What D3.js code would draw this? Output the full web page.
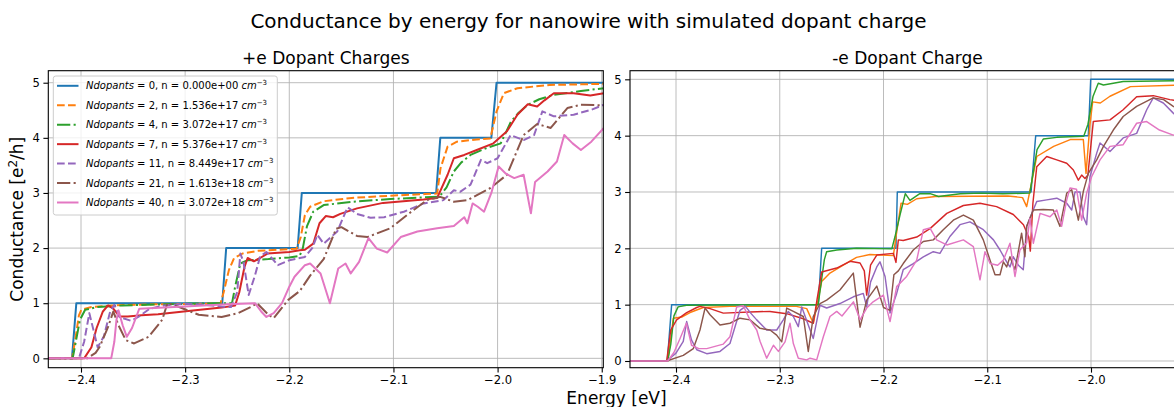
<!DOCTYPE html>
<html><head><meta charset="utf-8">
<script src="https://cdn.jsdelivr.net/npm/d3@7"></script>
<style>
html,body{margin:0;padding:0;background:#fff;}
svg{display:block;font-family:"DejaVu Sans",sans-serif;}
</style></head><body>
<svg id="chart" width="1174" height="407"></svg>
<script>
// ---------------- DATA ----------------
const dopantCounts = [0, 2, 4, 7, 11, 21, 40];
const densityLabels = ["0.000e+00", "1.536e+17", "3.072e+17", "5.376e+17", "8.449e+17", "1.613e+18", "3.072e+18"];
const xTickValues = [-2.4, -2.3, -2.2, -2.1, -2.0, -1.9];
const xTickLabels = ["−2.4", "−2.3", "−2.2", "−2.1", "−2.0", "−1.9"];
const yTickValues = [0, 1, 2, 3, 4, 5];
const yTickLabels = ["0", "1", "2", "3", "4", "5"];

// +e dopant charges: [energy eV, conductance e^2/h]
const plusN0 = [[-2.432,0],[-2.4087,0],[-2.4045,1],[-2.2644,1],[-2.2606,2],[-2.192,2],[-2.188,3],[-2.059,3],[-2.055,4],[-2.006,4],[-2.001,5],[-1.898,5]];
const plusN2 = [[-2.432,0],[-2.4085,0],[-2.405,0.4],[-2.402,0.78],[-2.3997,0.88],[-2.39,0.93],[-2.37,0.96],[-2.33,0.98],[-2.28,0.99],[-2.266,1.0],[-2.263,1.2],[-2.258,1.6],[-2.253,1.82],[-2.245,1.9],[-2.23,1.95],[-2.21,1.97],[-2.193,1.99],[-2.189,2.2],[-2.185,2.6],[-2.18,2.75],[-2.167,2.85],[-2.14,2.91],[-2.103,2.95],[-2.07,2.98],[-2.058,2.99],[-2.0548,3.45],[-2.048,3.84],[-2.039,3.93],[-2.02,3.97],[-2.007,3.99],[-2.001,4.48],[-1.994,4.81],[-1.981,4.9],[-1.95,4.96],[-1.92,4.97],[-1.898,4.98]];
const plusN4 = [[-2.432,0],[-2.408,0],[-2.405,0.3],[-2.401,0.7],[-2.396,0.88],[-2.385,0.93],[-2.36,0.96],[-2.32,0.98],[-2.27,1.0],[-2.255,1.0],[-2.252,1.3],[-2.247,1.72],[-2.24,1.78],[-2.22,1.8],[-2.2,1.83],[-2.19,1.86],[-2.187,2.0],[-2.183,2.4],[-2.177,2.66],[-2.167,2.78],[-2.14,2.84],[-2.103,2.89],[-2.07,2.92],[-2.056,2.93],[-2.049,3.1],[-2.042,3.39],[-2.035,3.55],[-2.026,3.69],[-2.01,3.82],[-1.997,3.9],[-1.992,4.1],[-1.987,4.3],[-1.98,4.45],[-1.971,4.6],[-1.96,4.7],[-1.946,4.78],[-1.92,4.85],[-1.898,4.9]];
const plusN7 = [[-2.432,0],[-2.397,0],[-2.39,0.2],[-2.385,0.55],[-2.379,0.85],[-2.374,0.96],[-2.369,0.9],[-2.363,0.76],[-2.355,0.76],[-2.342,0.78],[-2.326,0.8],[-2.297,0.86],[-2.265,0.92],[-2.252,0.96],[-2.248,1.2],[-2.243,1.66],[-2.24,1.82],[-2.234,1.76],[-2.228,1.82],[-2.221,1.9],[-2.2,1.93],[-2.19,1.96],[-2.185,1.97],[-2.177,2.08],[-2.171,2.45],[-2.165,2.58],[-2.158,2.56],[-2.151,2.62],[-2.135,2.72],[-2.11,2.82],[-2.071,2.88],[-2.058,2.91],[-2.048,3.33],[-2.042,3.63],[-2.032,3.69],[-2.02,3.78],[-2.004,3.9],[-1.991,4.12],[-1.981,4.42],[-1.971,4.61],[-1.962,4.57],[-1.955,4.68],[-1.946,4.81],[-1.927,4.81],[-1.911,4.77],[-1.898,4.81]];
const plusN11 = [[-2.432,0],[-2.402,0],[-2.397,0.3],[-2.392,0.82],[-2.384,0.2],[-2.378,0.4],[-2.372,0.85],[-2.368,0.97],[-2.363,0.75],[-2.352,0.68],[-2.345,0.75],[-2.334,0.9],[-2.32,0.96],[-2.3,0.99],[-2.28,0.97],[-2.265,0.94],[-2.256,0.93],[-2.25,1.2],[-2.247,1.9],[-2.244,1.75],[-2.239,1.15],[-2.233,1.5],[-2.228,1.85],[-2.222,1.93],[-2.211,1.69],[-2.2,1.78],[-2.185,1.84],[-2.178,2.0],[-2.173,2.24],[-2.167,2.08],[-2.154,2.3],[-2.144,2.74],[-2.135,2.62],[-2.122,2.55],[-2.109,2.56],[-2.09,2.66],[-2.071,2.81],[-2.052,2.87],[-2.042,3.05],[-2.036,3.02],[-2.026,3.15],[-2.016,3.6],[-2.01,3.54],[-2.0,3.63],[-1.9875,4.05],[-1.975,3.96],[-1.965,4.05],[-1.957,4.48],[-1.946,4.39],[-1.927,4.42],[-1.91,4.51],[-1.898,4.6]];
const plusN21 = [[-2.432,0],[-2.394,0],[-2.386,0.1],[-2.382,0.21],[-2.374,0.57],[-2.369,0.85],[-2.364,0.6],[-2.357,0.33],[-2.349,0.27],[-2.335,0.39],[-2.322,0.7],[-2.317,1.0],[-2.307,0.94],[-2.287,0.79],[-2.265,0.75],[-2.249,0.82],[-2.236,0.94],[-2.231,1.0],[-2.22,0.79],[-2.215,0.73],[-2.201,1.06],[-2.19,1.22],[-2.18,1.5],[-2.167,1.8],[-2.155,2.35],[-2.15,2.38],[-2.135,2.22],[-2.125,2.2],[-2.103,2.36],[-2.087,2.6],[-2.068,2.87],[-2.055,2.93],[-2.042,2.84],[-2.029,2.87],[-2.007,3.09],[-1.991,3.33],[-1.975,4.05],[-1.962,4.25],[-1.949,4.18],[-1.933,4.54],[-1.92,4.6],[-1.898,4.59]];
const plusN40 = [[-2.432,0],[-2.371,0],[-2.368,0.3],[-2.366,0.69],[-2.364,0.87],[-2.36,0.6],[-2.356,0.39],[-2.351,0.55],[-2.344,0.9],[-2.32,0.92],[-2.291,0.95],[-2.259,0.98],[-2.233,1.0],[-2.227,0.85],[-2.222,0.75],[-2.215,0.82],[-2.207,1.0],[-2.2,1.3],[-2.195,1.48],[-2.185,1.69],[-2.18,1.72],[-2.17,1.54],[-2.161,1.0],[-2.153,1.63],[-2.146,1.72],[-2.141,1.54],[-2.133,1.75],[-2.124,2.18],[-2.116,1.99],[-2.106,1.92],[-2.093,2.2],[-2.077,2.3],[-2.058,2.36],[-2.042,2.4],[-2.032,2.56],[-2.029,2.45],[-2.024,2.81],[-2.019,2.75],[-2.013,2.66],[-2.006,3.0],[-1.999,3.48],[-1.992,3.35],[-1.984,3.27],[-1.975,3.33],[-1.968,2.63],[-1.964,3.2],[-1.952,3.39],[-1.943,3.57],[-1.936,4.05],[-1.928,3.9],[-1.92,3.78],[-1.91,3.93],[-1.898,4.18]];

// -e dopant charge
const minusN0 = [[-2.445,0],[-2.4084,0],[-2.4042,1],[-2.2628,1],[-2.2596,2],[-2.188,2],[-2.1867,3],[-2.0578,3],[-2.0533,4],[-2.0026,4],[-2.0003,5],[-1.909,5]];
const minusN2 = [[-2.445,0],[-2.408,0],[-2.405,0.4],[-2.4026,0.76],[-2.3945,0.78],[-2.3865,0.86],[-2.3737,0.95],[-2.348,0.97],[-2.284,0.97],[-2.274,0.93],[-2.2677,0.67],[-2.264,1.0],[-2.2596,1.41],[-2.2516,1.56],[-2.2388,1.7],[-2.226,1.84],[-2.213,1.89],[-2.1905,1.87],[-2.188,2.2],[-2.1831,2.8],[-2.177,2.78],[-2.168,2.88],[-2.15,2.92],[-2.08,2.93],[-2.066,2.9],[-2.062,2.74],[-2.058,3.1],[-2.0523,3.63],[-2.036,3.81],[-2.02,3.93],[-2.0074,3.93],[-2.0048,3.33],[-2.001,4.2],[-1.9984,4.6],[-1.991,4.58],[-1.9817,4.7],[-1.962,4.87],[-1.909,4.9]];
const minusN4 = [[-2.445,0],[-2.408,0],[-2.405,0.3],[-2.402,0.8],[-2.398,0.96],[-2.39,0.99],[-2.3,1.0],[-2.263,1.0],[-2.26,1.4],[-2.257,1.8],[-2.2548,1.94],[-2.245,1.97],[-2.226,2.0],[-2.192,1.99],[-2.189,2.2],[-2.184,2.6],[-2.179,2.97],[-2.1745,2.85],[-2.165,2.97],[-2.155,2.97],[-2.147,2.92],[-2.126,2.97],[-2.107,2.98],[-2.085,2.97],[-2.059,2.98],[-2.057,3.2],[-2.052,3.75],[-2.046,3.94],[-2.033,3.97],[-2.007,3.99],[-2.003,4.2],[-1.998,4.7],[-1.993,4.93],[-1.988,4.9],[-1.969,4.96],[-1.909,4.98]];
const minusN7 = [[-2.445,0],[-2.409,0],[-2.4051,0.55],[-2.3994,0.73],[-2.3897,0.86],[-2.38,0.95],[-2.3769,0.97],[-2.3672,0.93],[-2.3544,0.85],[-2.3287,0.87],[-2.3094,0.88],[-2.2933,0.84],[-2.2773,0.75],[-2.2677,0.67],[-2.264,1.1],[-2.2596,1.58],[-2.2451,1.65],[-2.2323,1.77],[-2.2226,1.74],[-2.2185,1.6],[-2.2162,1.17],[-2.2125,1.7],[-2.2065,1.88],[-2.1905,1.91],[-2.188,1.75],[-2.1857,2.15],[-2.181,2.14],[-2.168,2.2],[-2.1552,2.35],[-2.139,2.62],[-2.123,2.76],[-2.107,2.8],[-2.091,2.74],[-2.0749,2.6],[-2.0651,2.42],[-2.06,2.2],[-2.0585,1.95],[-2.056,2.8],[-2.0523,3.45],[-2.0427,3.63],[-2.033,3.57],[-2.0234,3.51],[-2.017,3.39],[-2.0122,3.21],[-2.009,3.3],[-2.0058,3.24],[-2.003,3.3],[-1.9978,4.25],[-1.9817,4.28],[-1.969,4.46],[-1.956,4.69],[-1.94,4.71],[-1.924,4.64],[-1.909,4.6]];
const minusN11 = [[-2.445,0],[-2.409,0],[-2.4,0.14],[-2.393,0.35],[-2.3897,0.7],[-2.385,0.37],[-2.38,0.2],[-2.3704,0.13],[-2.3576,0.17],[-2.348,0.31],[-2.3383,0.9],[-2.333,0.97],[-2.328,0.85],[-2.3222,0.73],[-2.3126,0.55],[-2.3029,0.55],[-2.2966,0.73],[-2.2918,0.88],[-2.2869,0.79],[-2.2821,0.61],[-2.2788,0.96],[-2.2725,0.64],[-2.2677,0.4],[-2.2612,0.99],[-2.2548,0.94],[-2.242,1.02],[-2.229,1.14],[-2.2195,1.2],[-2.2162,0.96],[-2.2125,1.4],[-2.2065,1.67],[-2.2034,1.76],[-2.1985,1.5],[-2.1937,0.85],[-2.1873,1.2],[-2.181,1.62],[-2.1713,1.73],[-2.1616,1.85],[-2.152,1.94],[-2.1456,1.91],[-2.136,2.21],[-2.1263,2.42],[-2.1167,2.47],[-2.1038,2.33],[-2.094,2.15],[-2.0877,1.97],[-2.0813,1.76],[-2.0781,1.67],[-2.0749,1.85],[-2.07,1.7],[-2.0653,1.62],[-2.062,2.39],[-2.0571,2.62],[-2.0523,2.83],[-2.0427,2.86],[-2.033,2.89],[-2.0234,2.8],[-2.0186,2.68],[-2.0154,3.0],[-2.0106,3.0],[-2.0074,2.56],[-2.0042,2.42],[-2.001,3.27],[-1.9945,3.69],[-1.9913,3.87],[-1.9817,3.72],[-1.969,3.96],[-1.956,4.04],[-1.9463,4.46],[-1.94,4.67],[-1.9303,4.58],[-1.9207,4.4],[-1.909,4.2]];
const minusN21 = [[-2.445,0],[-2.409,0],[-2.393,0.1],[-2.3833,0.22],[-2.3769,0.55],[-2.372,0.94],[-2.3672,0.82],[-2.3576,0.64],[-2.348,0.67],[-2.3383,0.76],[-2.3287,0.73],[-2.319,0.58],[-2.3094,0.55],[-2.303,0.46],[-2.2981,0.34],[-2.2933,0.94],[-2.2869,0.88],[-2.2773,0.79],[-2.2725,0.17],[-2.2677,0.79],[-2.2612,1.02],[-2.2548,1.08],[-2.242,1.26],[-2.2291,1.56],[-2.2226,0.6],[-2.2162,1.08],[-2.2065,1.33],[-2.2,0.95],[-2.1937,0.9],[-2.19,1.53],[-2.1857,1.6],[-2.181,1.73],[-2.1713,1.97],[-2.1616,2.12],[-2.152,2.15],[-2.1424,2.33],[-2.1327,2.5],[-2.123,2.59],[-2.1134,2.5],[-2.1038,2.15],[-2.0973,1.79],[-2.0925,1.53],[-2.0877,1.53],[-2.0845,1.76],[-2.0813,1.67],[-2.0781,1.85],[-2.0733,1.62],[-2.0669,2.27],[-2.0637,1.85],[-2.062,2.39],[-2.0556,2.68],[-2.046,2.69],[-2.0363,2.68],[-2.0299,2.39],[-2.0234,2.98],[-2.0186,3.04],[-2.0122,2.5],[-2.0074,3.01],[-2.0026,3.33],[-1.9945,3.57],[-1.988,3.81],[-1.9785,4.1],[-1.969,4.34],[-1.956,4.52],[-1.94,4.67],[-1.93,4.64],[-1.9207,4.52],[-1.909,4.4]];
const minusN40 = [[-2.445,0],[-2.408,0],[-2.402,0.15],[-2.3961,0.4],[-2.39,0.67],[-2.385,0.28],[-2.378,0.22],[-2.3704,0.22],[-2.3544,0.3],[-2.348,0.43],[-2.3415,0.96],[-2.3351,0.98],[-2.3287,0.73],[-2.3222,0.55],[-2.319,0.35],[-2.3126,0.05],[-2.3061,0.28],[-2.3013,0.17],[-2.2949,0.34],[-2.2901,0.67],[-2.2869,0.31],[-2.2821,0.05],[-2.274,0.02],[-2.2708,0.05],[-2.2644,0.02],[-2.258,0.43],[-2.2516,0.79],[-2.2451,0.88],[-2.24,0.8],[-2.2355,0.9],[-2.229,1.05],[-2.2226,0.73],[-2.2162,0.94],[-2.21,1.05],[-2.2001,1.17],[-2.1937,0.7],[-2.1873,1.32],[-2.1777,1.5],[-2.168,1.79],[-2.1616,2.33],[-2.1552,2.36],[-2.1488,2.15],[-2.139,2.06],[-2.123,2.15],[-2.1134,2.03],[-2.107,1.44],[-2.1022,1.94],[-2.0973,1.73],[-2.09,1.7],[-2.0845,1.79],[-2.0781,2.09],[-2.0733,1.5],[-2.0685,1.97],[-2.062,2.1],[-2.0588,2.53],[-2.0556,2.09],[-2.0491,2.62],[-2.0395,2.56],[-2.033,2.68],[-2.0283,2.39],[-2.0234,2.86],[-2.0202,3.07],[-2.014,3.05],[-2.009,2.5],[-2.0042,2.98],[-1.9994,3.27],[-1.9913,3.57],[-1.9817,3.81],[-1.969,3.84],[-1.956,4.22],[-1.9463,4.25],[-1.934,4.1],[-1.9207,4.01],[-1.909,4.0]];

// ---------------- STYLE / LAYOUT ----------------
const colors = ["#1f77b4", "#ff7f0e", "#2ca02c", "#d62728", "#9467bd", "#8c564b", "#e377c2"];
const dashLeft = [null, "7.7,3.3", "13.3,3.3,2.1,3.3", null, "7.7,3.3", "13.3,3.3,2.1,3.3", null];

const svg = d3.select("#chart");
const FONT = "DejaVu Sans, sans-serif";
const SVG_W = 1174;

function drawPanel(cfg) {
  const g = svg.append("g");
  const x = d3.scaleLinear().domain(cfg.xDomain).range([cfg.left, cfg.left + cfg.width]);
  const y = d3.scaleLinear().domain(cfg.yDomain).range([cfg.top + cfg.height, cfg.top]);
  const clipId = "clip-" + cfg.id;
  svg.append("clipPath").attr("id", clipId).append("rect")
    .attr("x", cfg.left).attr("y", cfg.top).attr("width", cfg.width).attr("height", cfg.height);

  // only ticks whose label fits inside the visible picture
  const xIdx = xTickValues.map((v, i) => i).filter(i => x(xTickValues[i]) + 15 <= SVG_W);
  const xVals = xIdx.map(i => xTickValues[i]);

  // grid
  const grid = g.append("g").attr("clip-path", `url(#${clipId})`);
  grid.selectAll("line.gx").data(xTickValues).join("line")
    .attr("x1", d => x(d)).attr("x2", d => x(d))
    .attr("y1", cfg.top).attr("y2", cfg.top + cfg.height)
    .attr("stroke", "#b0b0b0").attr("stroke-width", 1).attr("stroke-opacity", 0.85);
  grid.selectAll("line.gy").data(yTickValues).join("line")
    .attr("x1", cfg.left).attr("x2", cfg.left + cfg.width)
    .attr("y1", d => y(d)).attr("y2", d => y(d))
    .attr("stroke", "#b0b0b0").attr("stroke-width", 1).attr("stroke-opacity", 0.85);

  // lines
  const line = d3.line().x(d => x(d[0])).y(d => y(d[1]));
  const lines = g.append("g").attr("clip-path", `url(#${clipId})`);
  cfg.series.forEach((s, i) => {
    lines.append("path").attr("d", line(s))
      .attr("fill", "none").attr("stroke", colors[i])
      .attr("stroke-width", cfg.lw)
      .attr("stroke-linejoin", "round")
      .attr("stroke-dasharray", cfg.dashes ? cfg.dashes[i] : null);
  });

  // axes
  const xAxis = d3.axisBottom(x).tickValues(xVals)
    .tickFormat((d, i) => xTickLabels[xIdx[i]]).tickSize(4.9).tickPadding(3.4).tickSizeOuter(0);
  const yAxis = d3.axisLeft(y).tickValues(yTickValues)
    .tickFormat((d, i) => yTickLabels[i]).tickSize(4.9).tickPadding(3.4).tickSizeOuter(0);
  const gx = g.append("g").attr("transform", `translate(0,${cfg.top + cfg.height})`).call(xAxis);
  const gy = g.append("g").attr("transform", `translate(${cfg.left},0)`).call(yAxis);
  [gx, gy].forEach(a => {
    a.select(".domain").remove();
    a.selectAll(".tick line").attr("stroke", "#000").attr("stroke-width", 1.1);
    a.selectAll(".tick text").attr("fill", "#000").attr("font-family", FONT).attr("font-size", 11.6);
  });
  // spines
  g.append("rect").attr("x", cfg.left).attr("y", cfg.top)
    .attr("width", cfg.width).attr("height", cfg.height)
    .attr("fill", "none").attr("stroke", "#000").attr("stroke-width", 1.1);

  // title
  g.append("text").attr("x", cfg.left + cfg.width / 2).attr("y", 64)
    .attr("text-anchor", "middle").attr("font-family", FONT).attr("font-size", 17)
    .attr("fill", "#000").text(cfg.title);
  return { g, x, y };
}

drawPanel({
  id: "left", left: 48.3, top: 70.7, width: 555, height: 297,
  xDomain: [-2.4314, -1.8985], yDomain: [-0.17, 5.218],
  series: [plusN0, plusN2, plusN4, plusN7, plusN11, plusN21, plusN40],
  lw: 2.0, dashes: dashLeft, title: "+e Dopant Charges"
});
drawPanel({
  id: "right", left: 630, top: 70.7, width: 555, height: 297,
  xDomain: [-2.44434, -1.9094], yDomain: [-0.119, 5.153],
  series: [minusN0, minusN2, minusN4, minusN7, minusN11, minusN21, minusN40],
  lw: 1.45, dashes: null, title: "-e Dopant Charge"
});

// legend
const legend = svg.append("g");
legend.append("rect").attr("x", 53.3).attr("y", 76).attr("width", 224).attr("height", 139)
  .attr("rx", 2.5).attr("fill", "#fff").attr("fill-opacity", 0.8)
  .attr("stroke", "#cccccc").attr("stroke-width", 1);
dopantCounts.forEach((n, i) => {
  const cy = 85.8 + i * 19.45;
  legend.append("line").attr("x1", 57).attr("x2", 78.5).attr("y1", cy).attr("y2", cy)
    .attr("stroke", colors[i]).attr("stroke-width", 2)
    .attr("stroke-dasharray", dashLeft[i]);
  const t = legend.append("text").attr("x", 86).attr("y", cy + 3.6)
    .attr("font-family", FONT).attr("font-size", 10).attr("fill", "#000");
  t.append("tspan").attr("font-style", "italic").text("Ndopants");
  t.append("tspan").text(" = " + n + ", n = " + densityLabels[i] + " ");
  t.append("tspan").attr("font-style", "italic").text("cm");
  t.append("tspan").attr("font-size", 7).attr("dy", -4).text("−3");
});

// figure labels
svg.append("text").attr("x", 588.5).attr("y", 28).attr("text-anchor", "middle")
  .attr("font-family", FONT).attr("font-size", 20).attr("fill", "#000")
  .text("Conductance by energy for nanowire with simulated dopant charge");
svg.append("text").attr("x", 616.5).attr("y", 404).attr("text-anchor", "middle")
  .attr("font-family", FONT).attr("font-size", 17).attr("fill", "#000")
  .text("Energy [eV]");
const yl = svg.append("text").attr("transform", "translate(22.5,219.2) rotate(-90)")
  .attr("text-anchor", "middle").attr("font-family", FONT).attr("font-size", 17).attr("fill", "#000");
yl.append("tspan").text("Conductance [e");
yl.append("tspan").attr("font-size", 12).attr("dy", -6).text("2");
yl.append("tspan").attr("dy", 6).text("/h]");
</script>
</body></html>
